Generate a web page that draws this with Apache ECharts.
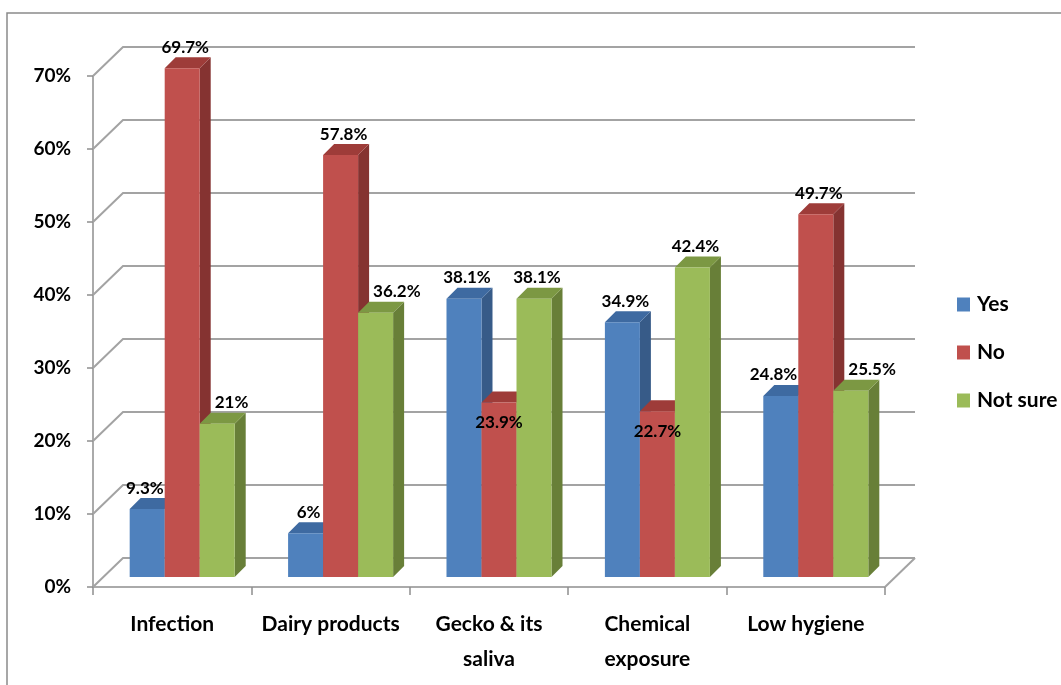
<!DOCTYPE html>
<html>
<head>
<meta charset="utf-8">
<script src="https://cdn.jsdelivr.net/npm/echarts@6/dist/echarts.min.js"></script>
<style>
  html, body { margin: 0; padding: 0; background: #ffffff; }
  #chart { width: 1061px; height: 685px; }
</style>
</head>
<body>
<div id="chart"></div>
<script>
// ---- data ----
const categories = ['Infection', 'Dairy products', 'Gecko & its\nsaliva', 'Chemical\nexposure', 'Low hygiene'];
const seriesNames = ['Yes', 'No', 'Not sure'];
const yesValues = [9.3, 6, 38.1, 34.9, 24.8];
const noValues = [69.7, 57.8, 23.9, 22.7, 49.7];
const notSureValues = [21, 36.2, 38.1, 42.4, 25.5];
const yTicks = [0, 10, 20, 30, 40, 50, 60, 70];

const allValues = [yesValues, noValues, notSureValues];

// ---- look ----
const FONT = 'Lato, "Open Sans", sans-serif';
const faceColors = [
  { front: '#4f81bd', top: '#3e6aa1', side: '#375b88' },
  { front: '#c0504d', top: '#9e3c39', side: '#853331' },
  { front: '#9bbb59', top: '#7c9843', side: '#687f38' }
];
const GRID_COLOR = '#a3a3a3';
const AXIS_COLOR = '#8e8e8e';
// oblique depth of the plot box (walls/floor) and of the bars inside it
const WALL_DX = 30, WALL_DY = 29;
const BAR_DX = 10, BAR_DY = 10;
const BAR_DEPTH = 11;
const BAR_FRAC = 0.221;
const LABEL_SIZE = 17;

const measureCtx = document.createElement('canvas').getContext('2d');
measureCtx.font = 'bold ' + LABEL_SIZE + 'px ' + FONT;

function barGeom(api, s, i, v) {
  const base = api.coord([i, 0]);
  const top = api.coord([i, v]);
  const bw = api.size([1, 0])[0];
  const w = bw * BAR_FRAC;
  const x0 = base[0] + BAR_DX - 1.5 * w + s * w;
  return { x0: x0, x1: x0 + w, w: w, yTop: top[1] - BAR_DY, yBase: base[1] - BAR_DY };
}

function renderBar(s) {
  return function (params, api) {
    const i = api.value(0), v = api.value(1);
    const g = barGeom(api, s, i, v);
    const d = BAR_DEPTH;
    const c = faceColors[s];
    return {
      type: 'group',
      children: [
        { type: 'polygon', shape: { points: [[g.x1, g.yTop], [g.x1 + d, g.yTop - d], [g.x1 + d, g.yBase - d], [g.x1, g.yBase]] }, style: { fill: c.side } },
        { type: 'polygon', shape: { points: [[g.x0, g.yTop], [g.x1, g.yTop], [g.x1 + d, g.yTop - d], [g.x0 + d, g.yTop - d]] }, style: { fill: c.top } },
        { type: 'rect', shape: { x: g.x0, y: g.yTop, width: g.w, height: g.yBase - g.yTop }, style: { fill: c.front } }
      ]
    };
  };
}

// value labels: above the bar, nudged aside when a taller neighbour is in the way,
// or set inside the bar top when both neighbours are taller
function renderLabel(s) {
  return function (params, api) {
    const i = api.value(0), v = api.value(1);
    const g = barGeom(api, s, i, v);
    const text = v + '%';
    const half = measureCtx.measureText(text).width / 2;
    let cx = (g.x0 + g.x1) / 2 + 3;
    let cy = g.yTop - 21;
    const bottom = cy + 9;
    let hitL = null, hitR = null;
    if (s > 0) {
      const n = barGeom(api, s - 1, i, allValues[s - 1][i]);
      if (n.yTop - BAR_DEPTH < bottom && cx - half < n.x1 + BAR_DEPTH) hitL = n;
    }
    if (s < allValues.length - 1) {
      const n = barGeom(api, s + 1, i, allValues[s + 1][i]);
      if (n.yTop - BAR_DEPTH < bottom && cx + half > n.x0) hitR = n;
    }
    if (hitL && hitR) {
      cx = (g.x0 + g.x1) / 2;
      cy = g.yTop + 20;
    } else if (hitL) {
      cx = hitL.x1 + BAR_DEPTH + 4 + half;
    } else if (hitR) {
      cx = hitR.x0 - 1 - half;
    }
    return {
      type: 'text',
      x: cx, y: cy,
      style: {
        text: text, fontFamily: FONT, fontSize: LABEL_SIZE, fontWeight: 'bold',
        fill: '#000', align: 'center', verticalAlign: 'middle'
      }
    };
  };
}

// back wall gridlines with their left-wall diagonals, plus the floor's right edge
function renderWall(params, api) {
  const cs = params.coordSys;
  const v = api.value(1);
  const y = api.coord([0, v])[1];
  const left = cs.x, right = cs.x + cs.width;
  const children = [{
    type: 'polyline',
    shape: { points: [[left, y], [left + WALL_DX, y - WALL_DY], [right + WALL_DX, y - WALL_DY]] },
    style: { stroke: GRID_COLOR, lineWidth: 2, fill: null }
  }];
  if (v === 0) {
    children.push({
      type: 'line',
      shape: { x1: right, y1: y, x2: right + WALL_DX, y2: y - WALL_DY },
      style: { stroke: GRID_COLOR, lineWidth: 2 }
    });
  }
  return { type: 'group', children: children };
}

const series = [{
  type: 'custom',
  name: 'wall',
  silent: true,
  clip: false,
  renderItem: renderWall,
  encode: { x: 0, y: 1 },
  data: yTicks.map(function (t) { return [0, t]; }),
  z: 1
}];

allValues.forEach(function (vals, s) {
  series.push({
    type: 'custom',
    name: seriesNames[s],
    clip: false,
    itemStyle: { color: faceColors[s].front },
    renderItem: renderBar(s),
    encode: { x: 0, y: 1 },
    data: vals.map(function (v, i) { return [i, v]; }),
    z: 2
  });
});
allValues.forEach(function (vals, s) {
  series.push({
    type: 'custom',
    name: seriesNames[s],
    silent: true,
    clip: false,
    itemStyle: { color: faceColors[s].front },
    renderItem: renderLabel(s),
    encode: { x: 0, y: 1 },
    data: vals.map(function (v, i) { return [i, v]; }),
    z: 5
  });
});

const chart = echarts.init(document.getElementById('chart'), null, { renderer: 'canvas' });
chart.setOption({
  animation: false,
  backgroundColor: '#ffffff',
  grid: { left: 93, right: 176, top: 76, bottom: 98 },
  graphic: [{
    type: 'rect',
    x: 7, y: 13,
    shape: { width: 1100, height: 720 },
    style: { fill: null, stroke: '#8a8a8a', lineWidth: 1.5 },
    silent: true
  }],
  legend: {
    data: seriesNames,
    orient: 'vertical',
    left: 957, top: 294,
    padding: 0,
    itemWidth: 13, itemHeight: 14,
    itemGap: 27,
    icon: 'rect',
    selectedMode: false,
    textStyle: { fontFamily: FONT, fontSize: 21, fontWeight: 'bold', color: '#000', lineHeight: 20, padding: [0, 0, 0, 2] }
  },
  xAxis: {
    type: 'category',
    data: categories,
    axisLine: { show: true, lineStyle: { color: AXIS_COLOR, width: 1.5 } },
    axisTick: { show: true, length: 8, lineStyle: { color: AXIS_COLOR, width: 1.5 } },
    axisLabel: { interval: 0, margin: 20, fontFamily: FONT, fontSize: 21, fontWeight: 'bold', color: '#000', lineHeight: 35 },
    splitLine: { show: false }
  },
  yAxis: {
    type: 'value',
    min: 0, max: 70, interval: 10,
    axisLine: { show: true, lineStyle: { color: AXIS_COLOR, width: 1.5 } },
    axisTick: { show: true, length: 6, lineStyle: { color: AXIS_COLOR, width: 1.5 } },
    axisLabel: { margin: 22, fontFamily: FONT, fontSize: 19, fontWeight: 'bold', color: '#000', formatter: '{value}%' },
    splitLine: { show: false }
  },
  series: series
});
</script>
</body>
</html>
